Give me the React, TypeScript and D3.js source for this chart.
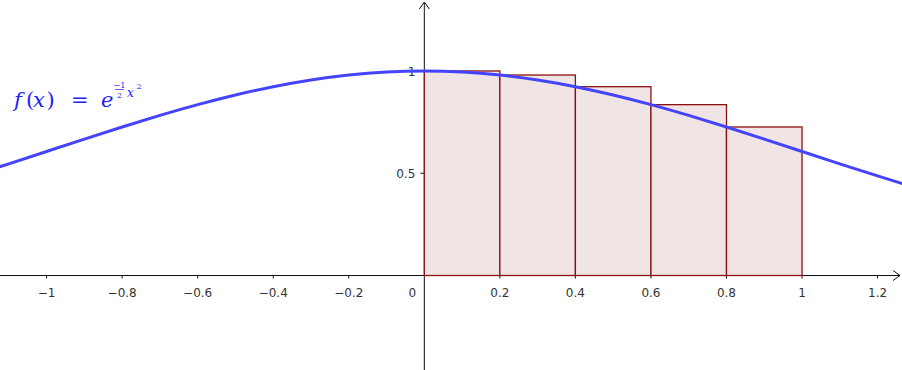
import React from "react";
import * as d3 from "d3";

// Function curve samples f(x) = e^(-x^2/2), read at 0.1 steps
const curveX = [-1.2, -1.1, -1.0, -0.9, -0.8, -0.7, -0.6, -0.5, -0.4, -0.3, -0.2, -0.1, 0, 0.1, 0.2, 0.3, 0.4, 0.5, 0.6, 0.7, 0.8, 0.9, 1.0, 1.1, 1.2, 1.3];
const curveY = [0.4868, 0.5461, 0.6065, 0.667, 0.7261, 0.7827, 0.8353, 0.8825, 0.9231, 0.956, 0.9802, 0.995, 1, 0.995, 0.9802, 0.956, 0.9231, 0.8825, 0.8353, 0.7827, 0.7261, 0.667, 0.6065, 0.5461, 0.4868, 0.4296];

// Left Riemann sum rectangles
const rectStarts = [0, 0.2, 0.4, 0.6, 0.8];
const rectHeights = [1, 0.9802, 0.9231, 0.8353, 0.7261];
const rectWidth = 0.2;

const xTicks = [-1, -0.8, -0.6, -0.4, -0.2, 0.2, 0.4, 0.6, 0.8, 1, 1.2];
const xTickLabels = ["−1", "−0.8", "−0.6", "−0.4", "−0.2", "0.2", "0.4", "0.6", "0.8", "1", "1.2"];
const yTicks = [0.5, 1];
const yTickLabels = ["0.5", "1"];

const W = 902;
const H = 370;

export default function App() {
  const x = d3.scaleLinear().domain([-1.1234, 1.2647]).range([0, W]);
  const y = d3.scaleLinear().domain([-0.462, 1.347]).range([H, 0]);
  const x0 = x(0);
  const y0 = y(0);
  const pts: [number, number][] = curveX.map((v, i) => [v, curveY[i]]);
  const line = d3
    .line<[number, number]>()
    .x((d) => x(d[0]))
    .y((d) => y(d[1]))
    .curve(d3.curveNatural);
  const labelFont = "'DejaVu Sans', sans-serif";
  const mathFont = "'DejaVu Serif', 'Liberation Serif', serif";
  const blue = "#2020ff";
  return (
    <svg
      width={W}
      height={H}
      style={{ position: "absolute", left: 0, top: 0, background: "#fff" }}
    >
      {/* axes */}
      <line x1={0} x2={W - 2} y1={y0} y2={y0} stroke="#111" strokeWidth={1} />
      <polyline
        points={`${W - 9},${y0 - 5} ${W - 2},${y0} ${W - 9},${y0 + 5}`}
        fill="none"
        stroke="#111"
        strokeWidth={1}
      />
      <line x1={x0} x2={x0} y1={H} y2={2} stroke="#111" strokeWidth={1} />
      <polyline
        points={`${x0 - 5},${9} ${x0},${2} ${x0 + 5},${9}`}
        fill="none"
        stroke="#111"
        strokeWidth={1}
      />
      {xTicks.map((t, i) => (
        <g key={"xt" + i}>
          <line x1={x(t)} x2={x(t)} y1={y0} y2={y0 + 3} stroke="#111" />
          <text
            x={x(t)}
            y={y0 + 21}
            textAnchor="middle"
            fontFamily={labelFont}
            fontSize={12}
            fill="#333"
          >
            {xTickLabels[i]}
          </text>
        </g>
      ))}
      <text x={x0 - 12} y={y0 + 21} textAnchor="middle" fontFamily={labelFont} fontSize={12} fill="#333">
        0
      </text>
      {yTicks.map((t, i) => (
        <g key={"yt" + i}>
          <line x1={x0 - 4} x2={x0} y1={y(t)} y2={y(t)} stroke="#111" />
          <text
            x={x0 - 9}
            y={y(t) + 5}
            textAnchor="end"
            fontFamily={labelFont}
            fontSize={12}
            fill="#333"
          >
            {yTickLabels[i]}
          </text>
        </g>
      ))}
      {/* rectangles */}
      {rectStarts.map((s, i) => (
        <rect
          key={"r" + i}
          x={x(s)}
          y={y(rectHeights[i])}
          width={x(s + rectWidth) - x(s)}
          height={y0 - y(rectHeights[i])}
          fill="#f1e4e4"
          stroke="#8c1010"
          strokeWidth={1.3}
        />
      ))}
      {/* curve */}
      <path d={line(pts) || ""} fill="none" stroke="#4444ff" strokeWidth={3} />
      {/* formula label */}
      <g fill={blue} fontFamily={mathFont}>
        <text x={14} y={107} fontSize={21} fontStyle="italic">f</text>
        <text x={26} y={107} fontSize={21}>(</text>
        <text x={33} y={107} fontSize={21} fontStyle="italic">x</text>
        <text x={46.5} y={107} fontSize={21}>)</text>
        <text x={71} y={107} fontSize={21}>=</text>
        <text x={101} y={107} fontSize={21} fontStyle="italic">e</text>
        <text x={119.5} y={88} fontSize={8} textAnchor="middle">−1</text>
        <line x1={115} x2={124} y1={89.5} y2={89.5} stroke={blue} strokeWidth={0.7} />
        <text x={119.5} y={98} fontSize={8} textAnchor="middle">2</text>
        <text x={127} y={97} fontSize={12} fontStyle="italic">x</text>
        <text x={136.5} y={89} fontSize={8}>2</text>
      </g>
    </svg>
  );
}
